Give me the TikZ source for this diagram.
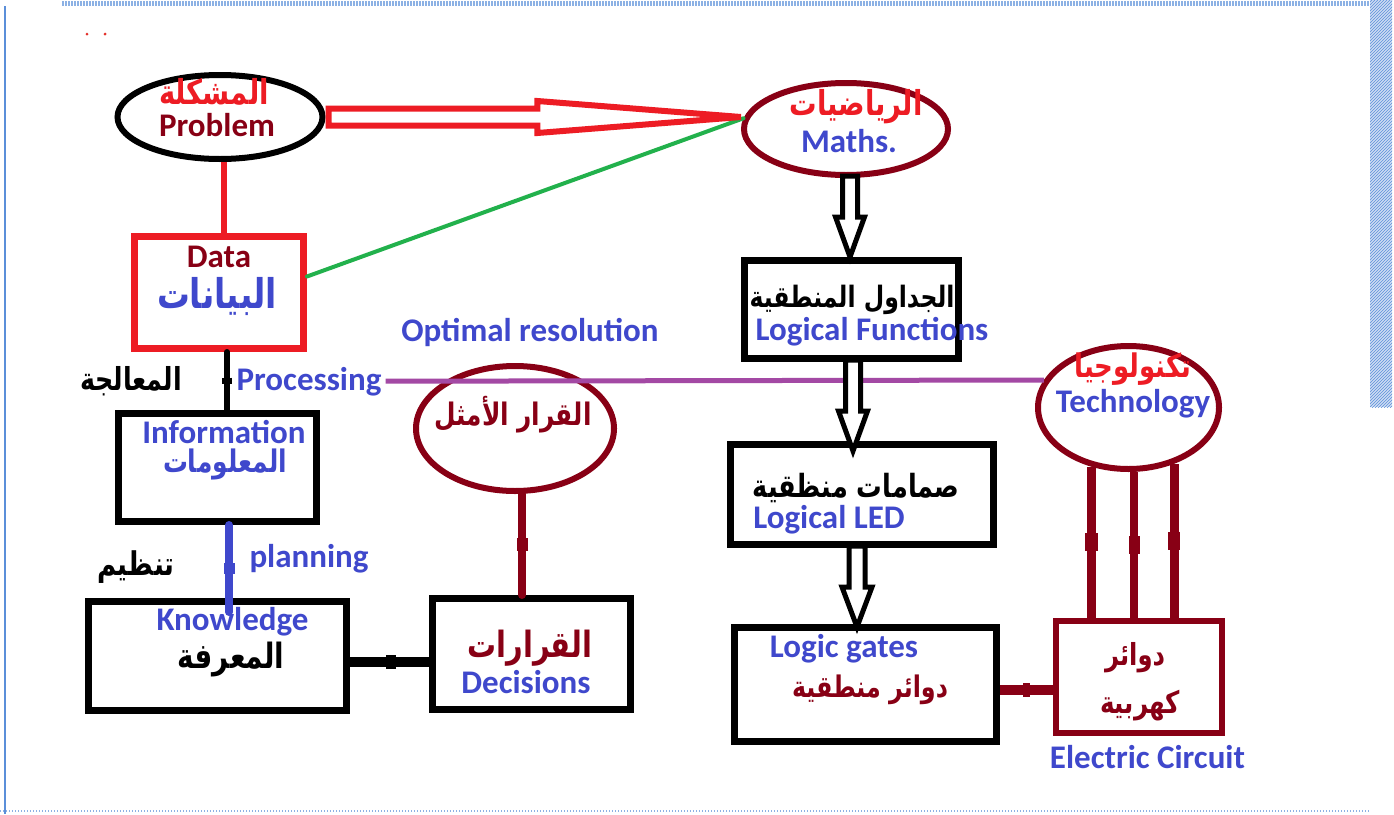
\documentclass[tikz,border=0pt]{standalone}
\usepackage{fontspec}
\usetikzlibrary{shapes.geometric,calc,patterns}
\newfontfamily\enfont{Carlito}
\newfontfamily\arabicfont[Script=Arabic]{DejaVu Sans}
\TeXXeTstate=1
\definecolor{pred}{HTML}{ED1C24}
\definecolor{dred}{HTML}{880015}
\definecolor{tblue}{HTML}{3F48CC}
\definecolor{pgreen}{HTML}{22B14C}
\definecolor{ppurple}{HTML}{A349A4}
\definecolor{framec}{HTML}{5B8FD9}
% Arabic words set to a given width, slightly tall
\newcommand\arw[2]{\resizebox{#1pt}{!}{\scalebox{1}[1.25]{\arabicfont\bfseries #2}}}
% straight connector with a thicker joint in its middle
\newcommand\linkknot[4]{%
  \draw[#1] (#2) -- (#3);
  \draw[#1, line width=#4, line cap=butt] ($(#2)!0.44!(#3)$) -- ($(#2)!0.56!(#3)$);}
% hollow block arrow pointing down: start, tip, shaft half width, head half width
\newcommand\hollowdown[4]{%
  \draw[hollowarrow] ($(#1)+(-#3,0)$) -- ($(#2)+(-#3,-40)$) -- ($(#2)+(-#4,-40)$) -- (#2)
    -- ($(#2)+(#4,-40)$) -- ($(#2)+(#3,-40)$) -- ($(#1)+(#3,0)$) -- cycle;}
\begin{document}
\begin{tikzpicture}[x=1pt,y=-1pt,
  en/.style={font=\enfont\bfseries\fontsize{33}{36}\selectfont, inner sep=0pt, anchor=base},
  arb/.style={font=\fontsize{26}{30}\selectfont, inner sep=0pt, anchor=base},
  box/.style={draw, rectangle, line width=7pt, inner sep=0pt},
  oval/.style={draw, ellipse, line width=6pt, inner sep=0pt},
  hollowarrow/.style={draw=black, fill=white, line width=5pt, line join=miter},
  redarrow/.style={draw=pred, fill=white, line width=6pt, line join=miter},
  conn/.style={line width=#1, line cap=round}]
\useasboundingbox (0,0) rectangle (1394,814);
\fill[white] (0,0) rectangle (1394,814);
% page frame
\draw[framec!70, line width=5pt, dash pattern=on 1.5pt off 1.5pt] (62,3) -- (1370,3);
\draw[framec, line width=1.2pt] (5,6) -- (5,814);
\fill[framec!30] (1370,0) rectangle (1392,407);
\fill[pattern=north east lines, pattern color=framec] (1370,0) rectangle (1392,407);
\draw[framec!70, line width=1.5pt, dash pattern=on 1pt off 2pt] (0,811) -- (1370,811);
\fill[pred!80!brown] (87,34) circle (1.5);
\fill[pred!80!brown] (105,34) circle (1.5);

% ---- shapes ----
\node[oval, minimum width=205, minimum height=84] (prob) at (220,117) {};
\node[oval, draw=dred, minimum width=204, minimum height=92] (maths) at (846,129) {};
\node[box, draw=pred, minimum width=169, minimum height=112] (data) at (219,292.5) {};
\node[box, minimum width=198, minimum height=108] (info) at (217.5,467.5) {};
\node[box, minimum width=258, minimum height=109] (know) at (217.5,656) {};
\node[box, minimum width=198, minimum height=111] (dec) at (531.5,654) {};
\node[oval, draw=dred, minimum width=198, minimum height=125] (opt) at (515,428.5) {};
\node[box, minimum width=214, minimum height=98] (lf) at (851.5,309.5) {};
\node[box, minimum width=263, minimum height=100] (led) at (862,494.5) {};
\node[box, minimum width=262, minimum height=114] (lg) at (865.5,684.5) {};
\node[box, draw=dred, line width=6pt, minimum width=166, minimum height=112] (ec) at (1139,677) {};
\node[oval, draw=dred, minimum width=181, minimum height=123] (tech) at (1128.5,407.5) {};

% ---- texts (placed on their baselines) ----
\node[arb, text=pred] (tprobA) at (214,104) {\arw{110}{\beginR المشكلة\endR}};
\node[en, text=dred] (tprobE) at (217,136) {Problem};
\node[arb, text=pred] (tmathA) at (856,115) {\arw{133}{\beginR الرياضيات\endR}};
\node[en, text=tblue] (tmathE) at (849,152) {Maths.};
\node[en, text=dred] (tdataE) at (219,267) {Data};
\node[arb, text=tblue] (tdataA) at (217,308) {\arw{120}{\beginR البيانات\endR}};
\node[en, text=tblue] (tinfoE) at (224,443) {Information};
\node[arb, text=tblue] (tinfoA) at (225,472) {\arw{124}{\beginR المعلومات\endR}};
\node[en, text=tblue] (tknowE) at (232.5,630) {Knowledge};
\node[arb] (tknowA) at (231,668) {\arw{107}{\beginR المعرفة\endR}};
\node[arb, text=dred] (tdecA) at (530,657) {\arw{125}{\beginR القرارات\endR}};
\node[en, text=tblue] (tdecE) at (526,693) {Decisions};
\node[arb, text=dred] (toptA) at (513,425) {\arw{157}{\beginR القرار الأمثل\endR}};
\node[arb] (tlfA) at (852,307) {\arw{205}{\beginR الجداول المنطقية\endR}};
\node[en, text=tblue] (tlfE) at (872,340) {Logical Functions};
\node[arb] (tledA) at (856,497) {\arw{207}{\beginR صمامات منظقية\endR}};
\node[en, text=tblue] (tledE) at (829,528) {Logical LED};
\node[en, text=tblue] (tlgE) at (844,657) {Logic gates};
\node[arb, text=dred] (tlgA) at (870,697) {\arw{156}{\beginR دوائر منطقية\endR}};
\node[arb, text=dred] (tecA1) at (1135,665) {\arw{60}{\beginR دوائر\endR}};
\node[arb, text=dred] (tecA2) at (1140,713) {\arw{80}{\beginR كهربية\endR}};
\node[en, text=tblue] (tecE) at (1147.5,768) {Electric Circuit};
\node[arb, text=pred] (ttechA) at (1133,377) {\arw{117}{\beginR تكنولوجيا\endR}};
\node[en, text=tblue] (ttechE) at (1133,412) {Technology};
\node[arb] (lproc) at (131,390) {\arw{102}{\beginR المعالجة\endR}};
\node[en, text=tblue] (proc) at (309,390) {Processing};
\node[arb] (lplan) at (136,575) {\arw{77}{\beginR تنظيم\endR}};
\node[en, text=tblue] (plan) at (309,567) {planning};
\node[en, text=tblue] (optres) at (530,341) {Optimal resolution};

% ---- connectors ----
\draw[conn=6pt, pred, line cap=butt] ($(prob.south)+(4,0)$) -- ($(prob.south |- data.north)+(4,0)$);
\draw[conn=4pt, pgreen] ($(data.east)+(0,-16)$) -- (maths.174);
\coordinate (tipA) at (maths.west |- prob.east);
\coordinate (baseA) at ($(prob.east)!0.51!(tipA)$);
\draw[redarrow] ($(prob.east)+(3,-8.5)$) -- ($(baseA)+(0,-8.5)$) -- ($(baseA)+(0,-16)$) -- (tipA)
  -- ($(baseA)+(0,16)$) -- ($(baseA)+(0,8.5)$) -- ($(prob.east)+(3,8.5)$) -- cycle;
\draw[conn=5pt, ppurple, line cap=butt] ($(proc.east)+(4,0)$) -- (tech.162);

\linkknot{conn=6pt, black}{$(data.south)+(8,0)$}{$(data.south |- info.north)+(8,0)$}{10pt}
\linkknot{conn=8pt, tblue}{$(info.south)+(11.5,0)$}{$(info.south |- know.north)+(11.5,14)$}{11pt}
\linkknot{conn=10pt, black, line cap=butt}{$(know.east)+(0,6)$}{$(know.east |- dec.west)+(82,8)$}{14pt}
\linkknot{conn=8pt, dred}{$(opt.south)+(7,0)$}{$(opt.south |- dec.north)+(7,0)$}{11pt}
\linkknot{conn=10pt, dred, line cap=butt}{$(lg.east)+(0,5.5)$}{$(ec.west |- lg.east)+(0,5.5)$}{14pt}
\linkknot{conn=9pt, dred, line cap=butt}{tech.238}{tech.238 |- ec.north}{13pt}
\linkknot{conn=8pt, dred, line cap=butt}{tech.275}{tech.275 |- ec.north}{11pt}
\linkknot{conn=9pt, dred, line cap=butt}{tech.309}{tech.309 |- ec.north}{12pt}

\hollowdown{$(maths.south)+(4,-2)$}{$(maths.south |- lf.north)+(4,0)$}{7.5}{14.5}
\hollowdown{$(lf.south)+(1.5,-2)$}{$(lf.south |- led.north)+(1.5,10)$}{7.5}{14.5}
\hollowdown{$(led.south)+(-5,-2)$}{$(led.south |- lg.north)+(-5,3)$}{8}{15}
\end{tikzpicture}
\end{document}
